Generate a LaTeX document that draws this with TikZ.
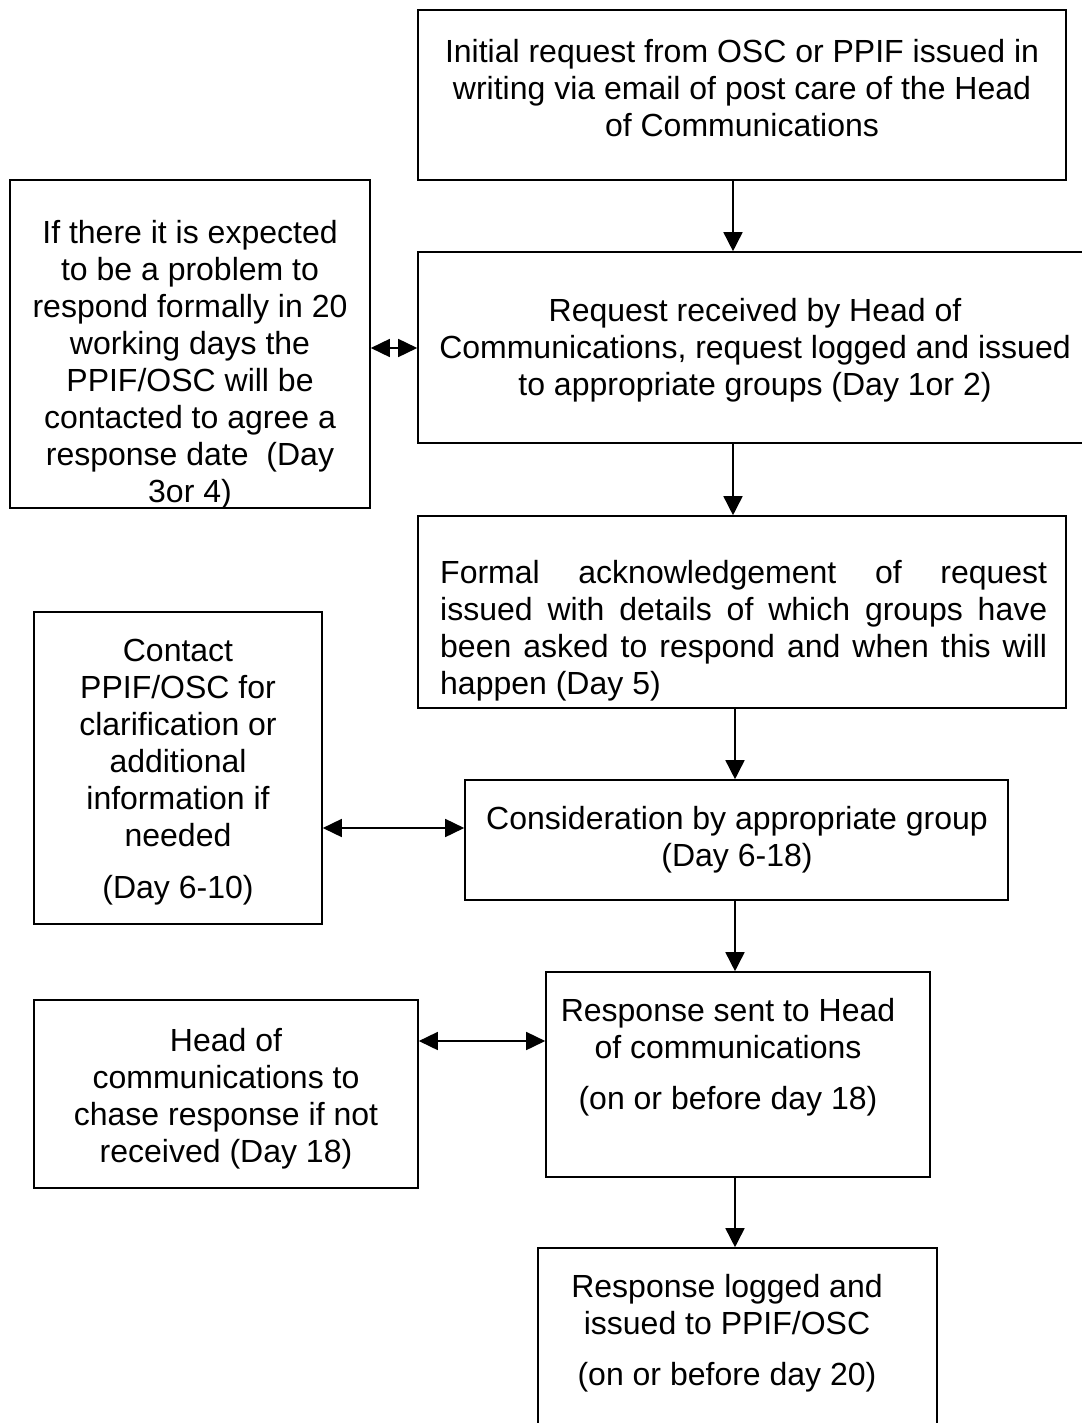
\documentclass[tikz,border=0pt]{standalone}
\usepackage{fontspec}
\setmainfont{Liberation Sans}
\usetikzlibrary{arrows.meta}
\begin{document}
\begin{tikzpicture}[x=1pt,y=-1pt,
  box/.style={draw=black, line width=1.6pt, rectangle, inner sep=0pt},
  txt/.style={align=center, inner sep=0pt, font=\fontsize{32}{37}\selectfont},
  arr/.style={line width=1.6pt, -{Triangle[length=19pt,width=19pt]}},
  dbl/.style={line width=1.6pt, {Triangle[length=19pt,width=18pt]}-{Triangle[length=19pt,width=18pt]}}]
\useasboundingbox[fill=white] (0,0) rectangle (1081,1423);

% boxes
\node[box, minimum width=648pt, minimum height=170pt] (b1) at (742,95) {};
\node[box, minimum width=677pt, minimum height=191pt] (b2) at (756.5,347.5) {};
\node[box, minimum width=360pt, minimum height=328pt] (bA) at (190,344) {};
\node[box, minimum width=648pt, minimum height=192pt] (b3) at (742,612) {};
\node[box, minimum width=288pt, minimum height=312pt] (bB) at (178,768) {};
\node[box, minimum width=543pt, minimum height=120pt] (b4) at (736.5,840) {};
\node[box, minimum width=384pt, minimum height=205pt] (b5) at (738,1074.5) {};
\node[box, minimum width=384pt, minimum height=188pt] (bC) at (226,1094) {};
\node[box, minimum width=399pt, minimum height=200pt] (b6) at (737.5,1348) {};

% texts
\node[txt] (t1) at (742,88) {Initial request from OSC or PPIF issued in\\writing via email of post care of the Head\\of Communications};
\node[txt] (t2) at (755,350) {Request received by Head of\\Communications, request logged and issued\\to appropriate groups (Day 1or 2)};
\begin{scope}
\clip (bA.north west) rectangle (bA.south east);
\node[txt] (tA) at (190,365) {If there it is expected\\to be a problem to\\respond formally in 20\\working days the\\PPIF/OSC will be\\contacted to agree a\\response date\ \ (Day\\3or 4)};
\end{scope}
\node[txt, align=left, anchor=west] (t3) at (440,630.5) {\makebox[607pt][s]{Formal acknowledgement of request}\\\makebox[607pt][s]{issued with details of which groups have}\\\makebox[607pt][s]{been asked to respond and when this will}\\happen (Day 5)};
\node[txt] (tB) at (178,772.5) {Contact\\PPIF/OSC for\\clarification or\\additional\\information if\\needed\\[15pt](Day 6-10)};
\node[txt] (t4) at (737,839.5) {Consideration by appropriate group\\(Day 6-18)};
\node[txt] (t5) at (728,1057) {Response sent to Head\\of communications\\[14pt](on or before day 18)};
\node[txt] (tC) at (226,1099) {Head of\\communications to\\chase response if not\\received (Day 18)};
\node[txt] (t6) at (727,1333.5) {Response logged and\\issued to PPIF/OSC\\[14pt](on or before day 20)};

% arrow x positions
\coordinate (xa) at (733,0);
\coordinate (xb) at (735,0);
\coordinate (ya) at (0,348);
\coordinate (yb) at (0,828);
\coordinate (yc) at (0,1041);

\draw[arr] (b1.south -| xa) -- (b2.north -| xa);
\draw[arr] (b2.south -| xa) -- (b3.north -| xa);
\draw[arr] (b3.south -| xb) -- (b4.north -| xb);
\draw[arr] (b4.south -| xb) -- (b5.north -| xb);
\draw[arr] (b5.south -| xb) -- (b6.north -| xb);

\draw[dbl] (bA.east |- ya) -- (b2.west |- ya);
\draw[dbl] (bB.east |- yb) -- (b4.west |- yb);
\draw[dbl] (bC.east |- yc) -- (b5.west |- yc);
\end{tikzpicture}
\end{document}
